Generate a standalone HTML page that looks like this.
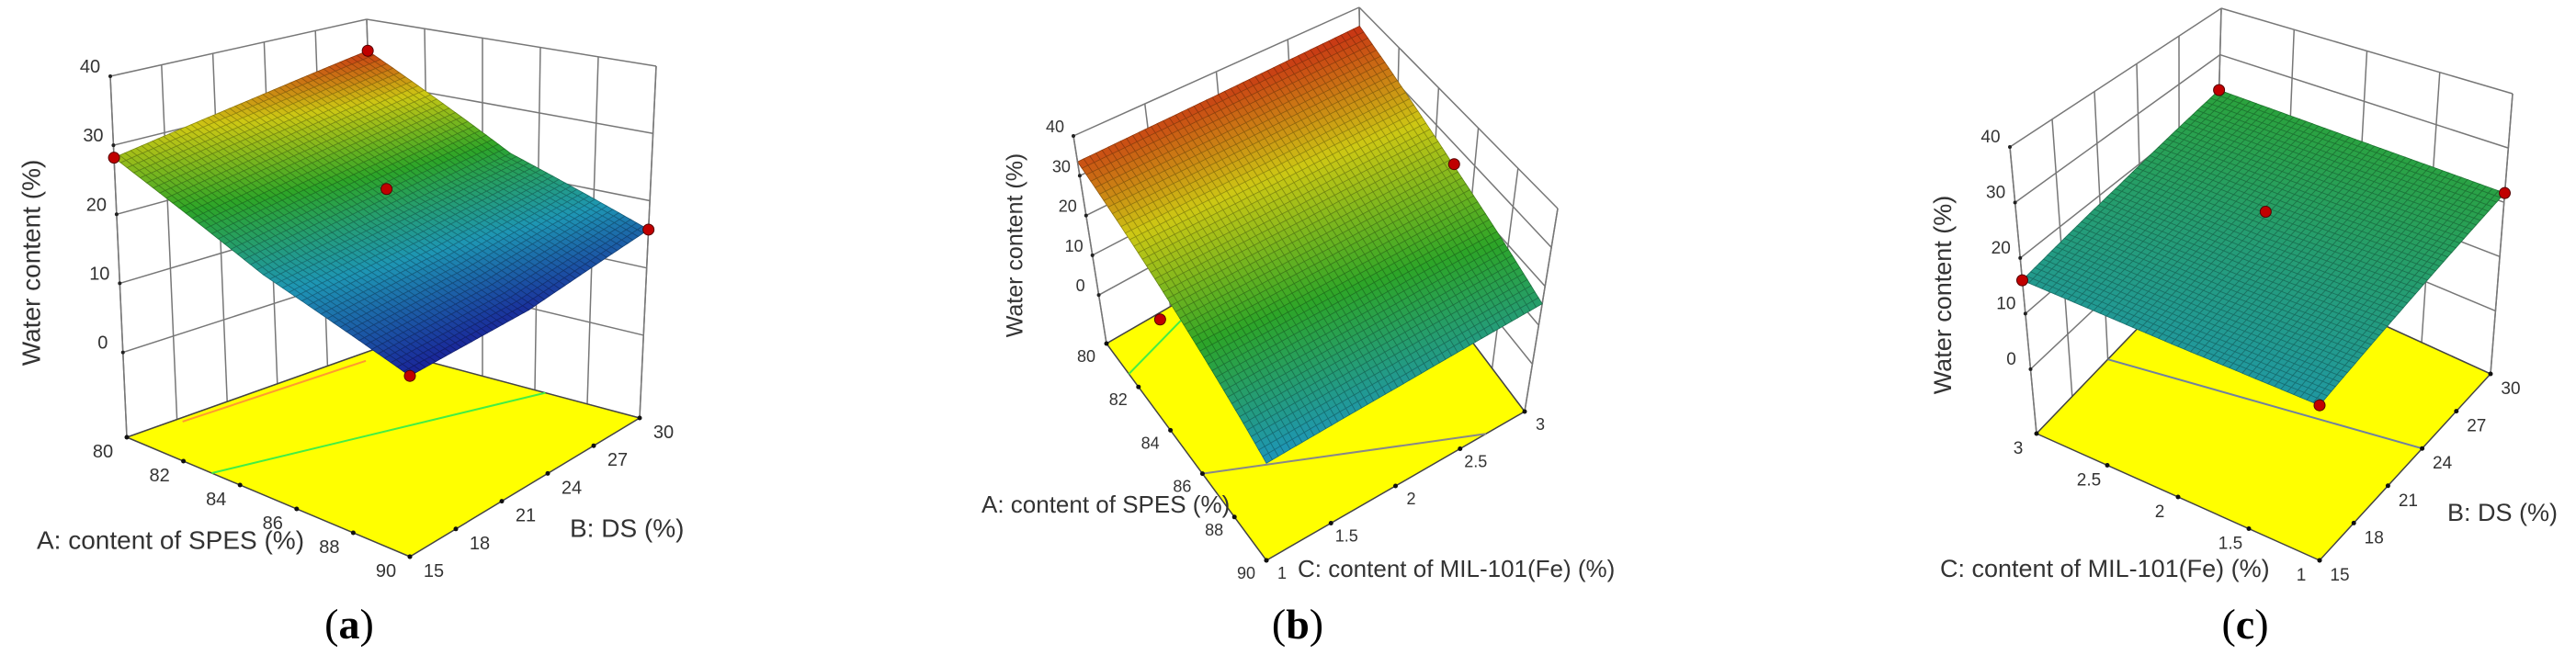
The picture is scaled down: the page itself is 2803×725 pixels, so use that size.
<!DOCTYPE html>
<html><head><meta charset="utf-8">
<style>
html,body{margin:0;padding:0;background:#fff;}
svg{display:block;}
text{font-family:"Liberation Sans",sans-serif;fill:#333;}
.cap{font-family:"Liberation Serif",serif;fill:#000;}
</style></head>
<body>
<svg id="fig" width="2803" height="725" viewBox="0 0 2803 725" xmlns="http://www.w3.org/2000/svg"></svg>
<script>
// ---- Data ----
// Panel (a): A = content of SPES, B = DS
const aAVals = [80, 85, 90];
const aBVals = [15, 22.5, 30];
const aZ = [[28.2, 31.5, 35.0],[19.0, 21.0, 23.0],[12.5, 13.0, 15.7]];
const aPoints = [[80,15,28.2],[80,30,35.0],[90,15,12.5],[90,30,15.7],[85,22.5,24.6]];
const aTicksA = [80, 82, 84, 86, 88, 90];
const aTicksB = [15, 18, 21, 24, 27, 30];
// Panel (b): A = content of SPES, C = MIL-101(Fe)
const bAVals = [80, 85, 90];
const bCVals = [1, 2, 3];
const bZ = [[33.5, 34.0, 34.8],[22.0, 23.0, 24.5],[10.8, 13.0, 15.5]];
const bPoints = [[84,1,15],[85,3,25]];
const bTicksA = [80, 82, 84, 86, 88, 90];
const bTicksC = [1, 1.5, 2, 2.5, 3];
// Panel (c): C = MIL-101(Fe), B = DS
const cCVals = [3, 2, 1];
const cBVals = [15, 22.5, 30];
const cZ = [[16.0, 19.0, 22.4],[15.0, 18.0, 22.0],[14.4, 18.0, 21.7]];
const cPoints = [[3,15,16],[3,30,22.4],[1,30,21.7],[1,15,14.4],[2,22.5,24]];
const cTicksC = [3, 2.5, 2, 1.5, 1];
const cTicksB = [15, 18, 21, 24, 27, 30];
const zTicks = [0, 10, 20, 30, 40];

const NS = "http://www.w3.org/2000/svg";
const svg = document.getElementById("fig");
function mk(tag, attrs, parent){
  const e = document.createElementNS(NS, tag);
  for (const k in attrs) e.setAttribute(k, attrs[k]);
  (parent||svg).appendChild(e);
  return e;
}
function lerp(a,b,t){return a+(b-a)*t;}
function bil(q,u,v){ // q=[p00,p10,p01,p11]
  return [lerp(lerp(q[0][0],q[1][0],u),lerp(q[2][0],q[3][0],u),v),
          lerp(lerp(q[0][1],q[1][1],u),lerp(q[2][1],q[3][1],u),v)];
}
const stops=[[0,[25,25,150]],[0.25,[30,150,180]],[0.5,[45,165,40]],[0.75,[205,200,20]],[1,[200,25,20]]];
function cmap(t,k){
  t=Math.max(0,Math.min(1,t));
  for(let i=1;i<stops.length;i++){
    if(t<=stops[i][0]){
      const s=(t-stops[i-1][0])/(stops[i][0]-stops[i-1][0]);
      const c=stops[i-1][1].map((x,j)=>Math.round(lerp(x,stops[i][1][j],s)*k));
      return "rgb("+c.join(",")+")";
    }
  }
  return "rgb(200,25,20)";
}
function gridVal(Z,u,v){ // piecewise bilinear on 3x3 grid
  const x=u*2, y=v*2;
  const i=Math.min(1,Math.floor(x)), j=Math.min(1,Math.floor(y));
  const fx=x-i, fy=y-j;
  return lerp(lerp(Z[i][j],Z[i+1][j],fx),lerp(Z[i][j+1],Z[i+1][j+1],fx),fy);
}

function panel(cfg){
  const g = mk("g",{});
  
  
  const P=(u,v,z)=>{
    const w=(z-cfg.zmin)/(40-cfg.zmin);
    const f=bil(cfg.floor,u,v), t=bil(cfg.top,u,v);
    return [lerp(f[0],t[0],w),lerp(f[1],t[1],w)];
  };
  const pts=a=>a.map(p=>p[0].toFixed(1)+","+p[1].toFixed(1)).join(" ");
  const line=(a,b,col,wd,par)=>mk("line",{x1:a[0],y1:a[1],x2:b[0],y2:b[1],stroke:col,"stroke-width":wd},par);
  // walls
  const walls = mk("g",{},g);
  
  
  const zl=[cfg.zmin].concat(zTicks);
  cfg.vTicks.forEach(t=>{const v=cfg.vOf(t); line(P(0,v,cfg.zmin),P(0,v,40),"#777",1.5,walls);});
  cfg.uTicks.forEach(t=>{const u=cfg.uOf(t); line(P(u,1,cfg.zmin),P(u,1,40),"#777",1.5,walls);});
  zl.forEach(z=>{line(P(0,0,z),P(0,1,z),"#777",1.5,walls); line(P(0,1,z),P(1,1,z),"#777",1.5,walls);});
  line(P(1,1,cfg.zmin),P(1,1,40),"#777",1.5,walls);
  // floor
  const fl = mk("polygon",{points:pts([P(0,0,cfg.zmin),P(1,0,cfg.zmin),P(1,1,cfg.zmin),P(0,1,cfg.zmin)]),fill:"#ffff00",stroke:"#444","stroke-width":1.5},g);
  
  
  cfg.contours.forEach(c=>{
    const l=line(P(c[0],c[1],cfg.zmin),P(c[2],c[3],cfg.zmin),c[4],2,g);
    
    
  });
  // surface
  const sg = mk("g",{},g);
  
  
  const N=46;
  for(let i=0;i<N;i++){
    for(let j=N-1;j>=0;j--){
      const u0=i/N,u1=(i+1)/N,v0=j/N,v1=(j+1)/N;
      const z00=gridVal(cfg.Z,u0,v0),z10=gridVal(cfg.Z,u1,v0),z01=gridVal(cfg.Z,u0,v1),z11=gridVal(cfg.Z,u1,v1);
      const zm=(z00+z10+z01+z11)/4;
      const t=(zm-cfg.cmin)/(cfg.cmax-cfg.cmin);
      mk("polygon",{points:pts([P(u0,v0,z00),P(u1,v0,z10),P(u1,v1,z11),P(u0,v1,z01)]),fill:cmap(t,1),stroke:cmap(t,0.72),"stroke-width":0.8},sg);
    }
  }
  // vertical edges
  line(P(0,0,cfg.zmin),P(0,0,40),"#777",1.5,g);
  // z ticks
  zTicks.forEach(z=>{
    const p=P(0,0,z);
    mk("circle",{cx:p[0],cy:p[1],r:2,fill:"#222"},g);
    const tx=mk("text",{x:p[0]+cfg.zOff[0],y:p[1]+cfg.zOff[1],"font-size":cfg.tf,"text-anchor":"middle"},g);
    tx.textContent=z;
    
    
  });
  cfg.uTicks.forEach(t=>{
    const p=P(cfg.uOf(t),0,cfg.zmin);
    mk("circle",{cx:p[0],cy:p[1],r:2.5,fill:"#111"},g);
    const tx=mk("text",{x:p[0]+cfg.uOff[0],y:p[1]+cfg.uOff[1],"font-size":cfg.tf,"text-anchor":"middle"},g);
    tx.textContent=t;
    
    
  });
  cfg.vTicks.forEach(t=>{
    const p=P(1,cfg.vOf(t),cfg.zmin);
    mk("circle",{cx:p[0],cy:p[1],r:2.5,fill:"#111"},g);
    const tx=mk("text",{x:p[0]+cfg.vOff[0],y:p[1]+cfg.vOff[1],"font-size":cfg.tf,"text-anchor":"middle"},g);
    tx.textContent=t;
    
    
  });
  // design points
  cfg.points.forEach(d=>{
    const p=P(cfg.uOf(d[0]),cfg.vOf(d[1]),d[2]);
    const c=mk("circle",{cx:p[0],cy:p[1],r:6,fill:"#c00000",stroke:"#500","stroke-width":1},g);
    
    
  });
  // titles
  const zt=mk("text",{x:cfg.zTitle[0],y:cfg.zTitle[1],"font-size":cfg.zTitle[2],"text-anchor":"middle",transform:"rotate(-90 "+cfg.zTitle[0]+" "+cfg.zTitle[1]+")","dominant-baseline":"middle"},g);
  zt.textContent="Water content (%)";
  
  
  const ut=mk("text",{x:cfg.uTitle[0],y:cfg.uTitle[1],"font-size":cfg.uTitle[2],"dominant-baseline":"middle"},g);
  ut.textContent=cfg.uTitle[3];
  
  
  const vt=mk("text",{x:cfg.vTitle[0],y:cfg.vTitle[1],"font-size":cfg.vTitle[2],"dominant-baseline":"middle"},g);
  vt.textContent=cfg.vTitle[3];
  
  
  const cap=mk("text",{x:cfg.cap[0],y:cfg.cap[1],"font-size":46,"text-anchor":"middle","class":"cap","dominant-baseline":"middle"},g);
  cap.innerHTML='(<tspan font-weight="bold">'+cfg.cap[2]+'</tspan>)';
  
  
}

panel({name:"panel-a",
  floor:[[138,476],[446,606],[411,379],[696,455]],
  top:[[120,83],[446,191],[399,21],[714,72]],
  zmin:-12.3, Z:aZ, cmin:12, cmax:36,
  uOf:a=>(a-80)/10, vOf:b=>(b-15)/15,
  uTicks:aTicksA, vTicks:aTicksB, points:aPoints,
  tf:20, zOff:[-22,-4], uOff:[-26,22], vOff:[26,22],
  contours:[[0.3,0,0.64,1,"#44ee44"],[0.02,0.2,0.05,0.9,"#ff9a30"]],
  zTitle:[36,286,28], uTitle:[40,590,28,"A: content of SPES (%)"], vTitle:[620,577,28,"B: DS (%)"],
  cap:[380,684,"a"]});

panel({name:"panel-b",
  floor:[[1204,374],[1378,610],[1482,213],[1659,448]],
  top:[[1168,148],[1378,370],[1479,8],[1695,227]],
  zmin:-12.2, Z:bZ, cmin:3, cmax:36,
  uOf:a=>(a-80)/10, vOf:c=>(c-1)/2,
  uTicks:bTicksA, vTicks:bTicksC, points:bPoints,
  tf:18, zOff:[-20,-4], uOff:[-22,20], vOff:[17,20],
  contours:[[0.14,0,0.05,0.3,"#44ee44"],[0.6,0,1,0.85,"#888888"]],
  zTitle:[1106,267,25], uTitle:[1068,551,26,"A: content of SPES (%)"], vTitle:[1412,621,26,"C: content of MIL-101(Fe) (%)"],
  cap:[1412,684,"b"]});

panel({name:"panel-c",
  floor:[[2216,472],[2524,610],[2410,270],[2710,407]],
  top:[[2187,160],[2524,275],[2417,9],[2734,102]],
  zmin:-11.6, Z:cZ, cmin:2, cmax:46,
  uOf:c=>(3-c)/2, vOf:b=>(b-15)/15,
  uTicks:cTicksC, vTicks:cTicksB, points:cPoints,
  tf:19, zOff:[-21,-5], uOff:[-20,22], vOff:[22,22],
  contours:[[0,0.4,1,0.6,"#7080a0"]],
  zTitle:[2116,321,27], uTitle:[2111,621,27,"C: content of MIL-101(Fe) (%)"], vTitle:[2663,560,27,"B: DS (%)"],
  cap:[2443,684,"c"]});
</script>
</body></html>
